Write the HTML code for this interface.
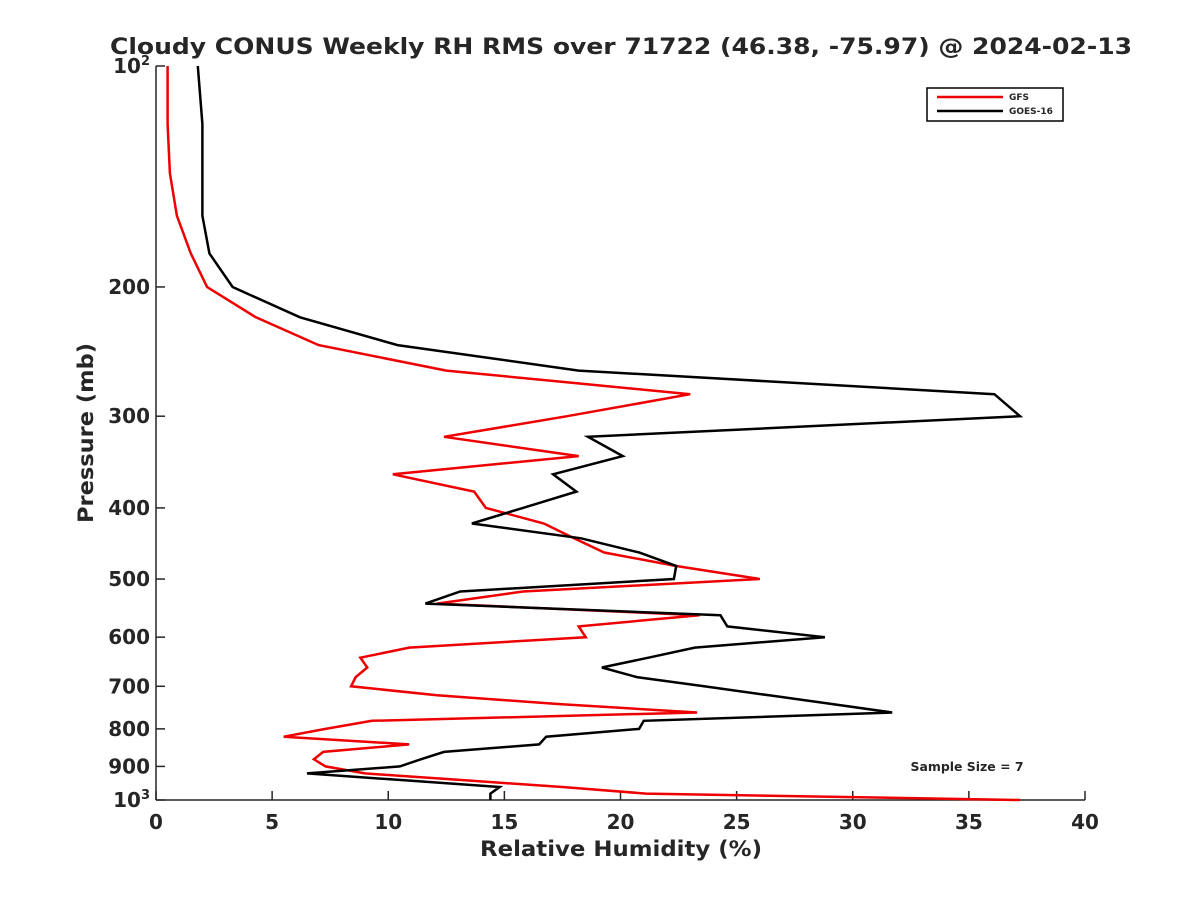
<!DOCTYPE html>
<html><head><meta charset="utf-8"><style>
body{margin:0;background:#fff;}
svg text{font-family:"DejaVu Sans","Liberation Sans",sans-serif;font-weight:bold;fill:#262626;}
</style></head><body>
<svg id="chart" width="1200" height="900" xmlns="http://www.w3.org/2000/svg">
<text x="621" y="54" font-size="22" text-anchor="middle" textLength="1022" lengthAdjust="spacingAndGlyphs" fill="#000">Cloudy CONUS Weekly RH RMS over 71722 (46.38, -75.97) @ 2024-02-13</text>
<g id="axes"></g>
<g id="series"></g>
<g>
<rect x="927" y="88" width="136" height="33" fill="#fff" stroke="#000" stroke-width="1.5"/>
<line x1="937" y1="97" x2="1003" y2="97" stroke="#e00" stroke-width="2.5"/>
<text x="1009" y="100" font-size="9" fill="#000">GFS</text>
<line x1="937" y1="111" x2="1003" y2="111" stroke="#000" stroke-width="2.5"/>
<text x="1009" y="114" font-size="9" fill="#000">GOES-16</text>
</g>
<text x="967" y="771" font-size="12" text-anchor="middle" textLength="113" lengthAdjust="spacingAndGlyphs" fill="#000">Sample Size = 7</text>
<text x="621" y="856" font-size="21" text-anchor="middle" textLength="282" lengthAdjust="spacingAndGlyphs">Relative Humidity (%)</text>
<text transform="translate(93,433) rotate(-90)" font-size="21" text-anchor="middle" textLength="180" lengthAdjust="spacingAndGlyphs">Pressure (mb)</text>
</svg>
<script>
const pressure=[100,120,140,160,180,200,220,240,260,280,300,320,340,360,380,400,420,440,460,480,500,520,540,560,580,600,620,640,660,680,700,720,740,760,780,800,820,840,860,880,900,920,940,960,980,1000];
const goes=[1.8,2.0,2.0,2.0,2.3,3.3,6.2,10.4,18.2,36.1,37.2,18.6,20.1,17.1,18.1,15.8,13.6,18.3,20.8,22.4,22.3,13.1,11.6,24.3,24.6,28.8,23.2,21.2,19.2,20.7,23.6,26.4,29.1,31.7,21.0,20.8,16.8,16.5,12.4,11.4,10.5,6.5,10.7,14.8,14.4,14.4];
const gfs=[0.5,0.5,0.6,0.9,1.5,2.2,4.3,7.0,12.5,23.0,17.7,12.4,18.2,10.2,13.7,14.2,16.7,18.0,19.3,22.4,26.0,15.8,12.1,23.4,18.2,18.5,10.9,8.8,9.1,8.6,8.4,12.1,17.3,23.3,9.3,7.3,5.5,10.9,7.2,6.8,7.3,9.0,13.3,17.5,21.1,37.2];
const xTicks=[0,5,10,15,20,25,30,35,40];
const yTicks=[200,300,400,500,600,700,800,900];
const L=156,R=1085,T=66,B=800;
const xs=v=>L+(v/40)*(R-L);
const ys=p=>T+Math.log10(p/100)*(B-T);
const NS="http://www.w3.org/2000/svg";
const ax=document.getElementById('axes');
function mk(tag,attrs,parent){const e=document.createElementNS(NS,tag);for(const k in attrs)e.setAttribute(k,attrs[k]);parent.appendChild(e);return e;}
let a=mk('line',{x1:L,y1:T,x2:L,y2:B,stroke:'#262626','stroke-width':1.5},ax);


a=mk('line',{x1:L,y1:B,x2:R,y2:B,stroke:'#262626','stroke-width':1.5},ax);


xTicks.forEach(v=>{
 const t=mk('line',{x1:xs(v),y1:B,x2:xs(v),y2:B-9,stroke:'#262626','stroke-width':1.5},ax);
 
 
 const l=mk('text',{x:xs(v),y:B+29,'font-size':20,'text-anchor':'middle'},ax);l.textContent=v;
 
 
});
[100,1000].concat(yTicks).forEach(p=>{
 const t=mk('line',{x1:L,y1:ys(p),x2:L+9,y2:ys(p),stroke:'#262626','stroke-width':1.5},ax);
 
 
});
yTicks.forEach(p=>{
 const l=mk('text',{x:L-6,y:ys(p)+7,'font-size':20,'text-anchor':'end'},ax);l.textContent=p;
 
 
});
[[100,'2'],[1000,'3']].forEach(([p,e])=>{
 const l=mk('text',{x:L-6,y:ys(p)+7,'font-size':20,'text-anchor':'end'},ax);
 l.innerHTML='10<tspan dy="-8" font-size="13">'+e+'</tspan>';
 
 
});
const sg=document.getElementById('series');
function line(vals,color,name){
 const pts=vals.map((v,i)=>xs(v).toFixed(1)+','+ys(pressure[i]).toFixed(1)).join(' ');
 const pl=mk('polyline',{points:pts,fill:'none',stroke:color,'stroke-width':2.5,'stroke-linejoin':'miter'},sg);
 
 
}
line(gfs,'#e00','gfs-line');
line(goes,'#000','goes-16-line');
</script>
</body></html>
